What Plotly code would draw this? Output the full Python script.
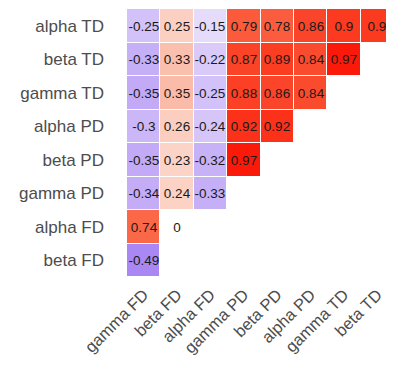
import plotly.graph_objects as go

rows = ["alpha TD", "beta TD", "gamma TD", "alpha PD", "beta PD", "gamma PD", "alpha FD", "beta FD"]
cols = ["gamma FD", "beta FD", "alpha FD", "gamma PD", "beta PD", "alpha PD", "gamma TD", "beta TD"]

alpha_TD = [-0.25, 0.25, -0.15, 0.79, 0.78, 0.86, 0.9, 0.9]
beta_TD = [-0.33, 0.33, -0.22, 0.87, 0.89, 0.84, 0.97]
gamma_TD = [-0.35, 0.35, -0.25, 0.88, 0.86, 0.84]
alpha_PD = [-0.3, 0.26, -0.24, 0.92, 0.92]
beta_PD = [-0.35, 0.23, -0.32, 0.97]
gamma_PD = [-0.34, 0.24, -0.33]
alpha_FD = [0.74, 0]
beta_FD = [-0.49]

values = [alpha_TD, beta_TD, gamma_TD, alpha_PD, beta_PD, gamma_PD, alpha_FD, beta_FD]

z = []
text = []
for r in values:
    zr = list(r) + [None] * (len(cols) - len(r))
    tr = [("%g" % v) for v in r] + [""] * (len(cols) - len(r))
    z.append(zr)
    text.append(tr)

colorscale = [
    [0.0, "rgb(80,12,230)"],
    [0.5, "rgb(255,255,255)"],
    [0.625, "rgb(251,208,194)"],
    [0.87, "rgb(251,104,72)"],
    [0.95, "rgb(251,58,32)"],
    [0.985, "rgb(251,26,10)"],
    [1.0, "rgb(250,10,0)"],
]

fig = go.Figure(go.Heatmap(
    z=z, x=cols, y=rows, text=text, texttemplate="%{text}",
    textfont=dict(family="Liberation Sans, Arial", size=13.5, color="#1a1a1a"),
    colorscale=colorscale, zmin=-1, zmax=1, showscale=False,
    xgap=1, ygap=1, hoverongaps=False,
))

fig.update_layout(
    width=386, height=367,
    margin=dict(l=119, r=0, t=1, b=98),
    plot_bgcolor="white", paper_bgcolor="white",
    font=dict(family="Liberation Sans, Arial", color="#4d4d4d"),
)
fig.update_xaxes(tickangle=-45, tickfont=dict(size=16.5, color="#4d4d4d"),
                 showgrid=False, zeroline=False, ticks="", showline=False,
                 automargin=False, ticklabelstandoff=4)
fig.update_yaxes(autorange="reversed", tickfont=dict(size=17, color="#4d4d4d"),
                 showgrid=False, zeroline=False, ticks="", showline=False,
                 automargin=False, ticklabelstandoff=22)

fig.write_html("out.html")
